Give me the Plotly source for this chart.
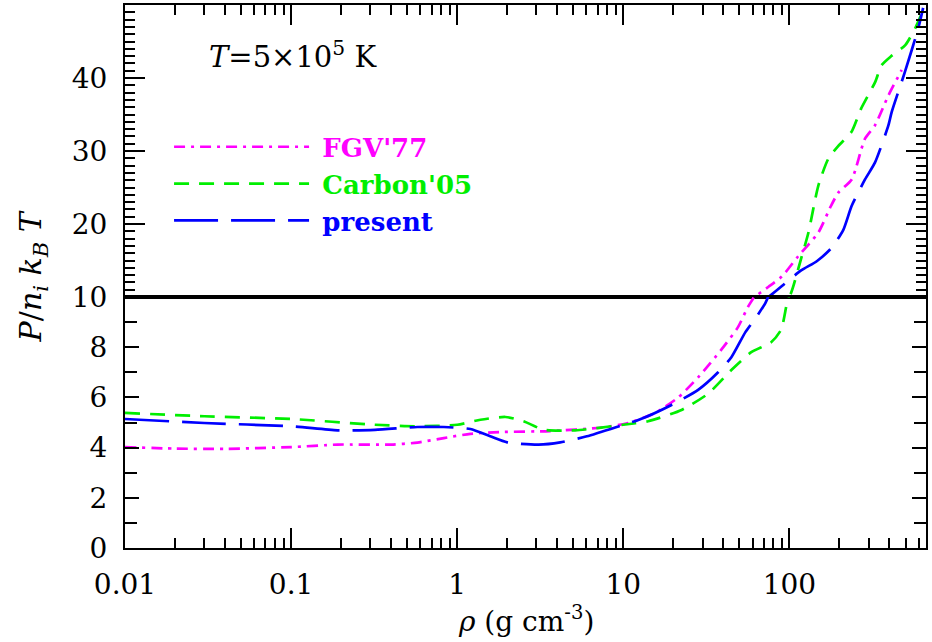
import plotly.graph_objects as go
from plotly.subplots import make_subplots

# ---- data (density in g/cm^3, P/(n_i k_B T)) ----
rho_fgv = [0.01, 0.02, 0.04, 0.1, 0.19, 0.4, 0.575, 0.83, 1.2, 1.86, 3.63, 7.4, 10.7, 15.5, 21.4,
           28.2, 38.9, 49.0, 56.2, 61.7, 74.8, 89.9, 113, 149, 178, 197, 237, 285, 327, 394, 474]
p_fgv = [4.02, 3.96, 3.95, 4.02, 4.12, 4.12, 4.2, 4.38, 4.55, 4.62, 4.66, 4.8, 4.98, 5.38, 6.0,
         6.8, 7.9, 8.8, 9.6, 10.05, 11.4, 12.8, 15.6, 18.8, 22.5, 24.3, 26.1, 31.7, 33.5, 37.6, 41.1]

rho_c05 = [0.01, 0.03, 0.1, 0.32, 0.575, 1.0, 1.38, 1.95, 2.51, 3.31, 5.13, 10.0, 14.1, 22.4, 32.4,
           44.7, 58.9, 77.6, 89.1, 95.5, 102, 117, 130, 149, 171, 197, 236, 270, 329, 357, 410, 498, 571, 646]
p_c05 = [5.38, 5.25, 5.14, 4.91, 4.85, 4.91, 5.11, 5.22, 5.05, 4.71, 4.69, 4.91, 5.05, 5.5, 6.15,
         7.09, 7.8, 8.2, 8.7, 9.6, 10.5, 15.1, 18.8, 25.2, 28.9, 30.7, 32.6, 35.8, 39.5, 41.7, 43.0, 44.5, 46.8, 49.6]

rho_pres = [0.01, 0.03, 0.1, 0.19, 0.32, 0.575, 0.83, 1.2, 1.58, 2.0, 3.09, 4.17, 6.03, 10.0, 12.3,
            19.5, 28.2, 37.2, 44.7, 54.3, 63.1, 71.6, 77.6, 117, 146, 179, 211, 237, 285, 327, 394, 412,
            495, 596, 638]
p_pres = [5.14, 4.98, 4.85, 4.69, 4.71, 4.82, 4.82, 4.74, 4.45, 4.21, 4.12, 4.21, 4.45, 4.91, 5.1,
          5.7, 6.3, 7.0, 7.6, 8.6, 9.2, 9.76, 10.3, 13.6, 14.9, 16.7, 19.2, 22.5, 26.1, 28.4, 33.5, 35.3,
          40.8, 46.8, 49.6]

series = [
    ("FGV'77", rho_fgv, p_fgv, "#ff00ff", "11px,6px,3px,6px"),
    ("Carbon'05", rho_c05, p_c05, "#00ee00", "15px,10px"),
    ("present", rho_pres, p_pres, "#0000ff", "44px,13px"),
]

FONT = "DejaVu Serif"
fig = make_subplots(rows=2, cols=1, shared_xaxes=True, vertical_spacing=0,
                    row_heights=[292, 251])

for name, xs, ys, col, dash in series:
    for row in (1, 2):
        fig.add_trace(go.Scatter(
            x=xs, y=ys, mode="lines",
            line=dict(color=col, width=2.7, dash=dash, shape="spline", smoothing=0.6),
            name=f"<span style='color:{col}'>\u00a0<b>{name}</b></span>",
            showlegend=(row == 1), hoverinfo="skip"), row=row, col=1)

axis_common = dict(showline=True, linecolor="black", linewidth=2, mirror=True,
                   ticks="inside", tickcolor="black", tickwidth=2, showgrid=False, zeroline=False)

# top panel
fig.update_xaxes(type="log", range=[-2, 2.822], dtick=1, side="top", ticklen=20,
                 showticklabels=False,
                 minor=dict(ticks="inside", ticklen=10, tickwidth=1.5, tickcolor="black", showgrid=False),
                 **axis_common, row=1, col=1)
fig.update_yaxes(range=[10, 50], tickvals=[10, 20, 30, 40], ticklen=20,
                 minor=dict(ticks="inside", dtick=1, ticklen=10, tickwidth=1.5, tickcolor="black", showgrid=False),
                 ticklabelstandoff=10, **{**axis_common, "mirror": "ticks"}, row=1, col=1)
# bottom panel
fig.update_xaxes(type="log", range=[-2, 2.822], dtick=1, ticklen=20,
                 minor=dict(ticks="inside", ticklen=10, tickwidth=1.5, tickcolor="black", showgrid=False),
                 ticklabelstandoff=10, **axis_common, row=2, col=1)
fig.update_yaxes(range=[0, 10], tickvals=[0, 2, 4, 6, 8], ticklen=14,
                 minor=dict(ticks="inside", dtick=1, ticklen=12, tickwidth=1.5, tickcolor="black", showgrid=False),
                 ticklabelstandoff=10, **{**axis_common, "mirror": "ticks"}, row=2, col=1)

fig.update_layout(
    width=932, height=642,
    margin=dict(l=125, r=4, t=5, b=94),
    paper_bgcolor="white", plot_bgcolor="white",
    font=dict(family=FONT, size=28, color="black"),
    legend=dict(x=0.055, y=0.782, xanchor="left", yanchor="top", bgcolor="rgba(0,0,0,0)",
                itemwidth=135, tracegroupgap=0, font=dict(family=FONT, size=26)),
    annotations=[
        dict(text="<i>T</i>=5×10<sup>5</sup> K", x=0.102, y=0.908, xref="paper", yref="paper",
             xanchor="left", yanchor="middle", showarrow=False, font=dict(size=29)),
        dict(text="<i>P</i>/<i>n</i><sub><i>i</i></sub> <i>k</i><sub><i>B</i></sub> <i>T</i>",
             x=-0.115, y=0.5, xref="paper", yref="paper", textangle=-90,
             xanchor="center", yanchor="middle", showarrow=False, font=dict(size=30)),
        dict(text="<i>ρ</i> (g cm<sup>-3</sup>)", x=0.5, y=-0.132, xref="paper", yref="paper",
             xanchor="center", yanchor="middle", showarrow=False, font=dict(size=28)),
    ],
)

fig.write_html("out.html")
